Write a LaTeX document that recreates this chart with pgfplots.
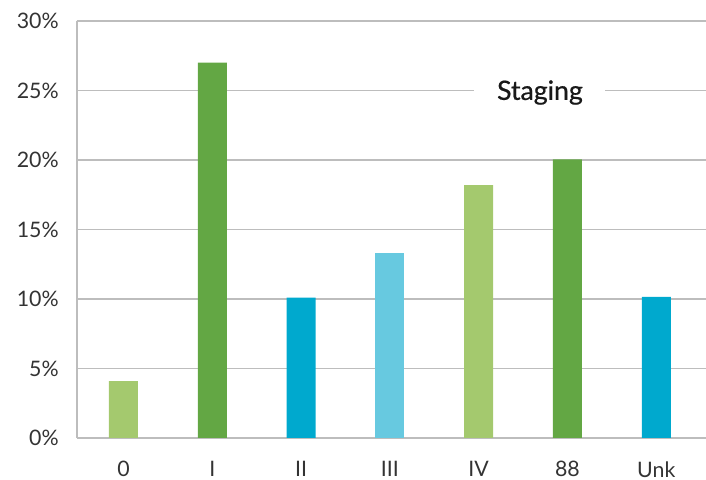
\documentclass[border=0pt]{standalone}
\usepackage{fontspec}
\setmainfont{Lato}
\newfontfamily\titlefont{Lato}[FakeBold=0.6]
\usepackage{pgfplots}
\pgfplotsset{compat=1.18}
\usetikzlibrary{calc}
\definecolor{lgreen}{HTML}{A4C96E}
\definecolor{dgreen}{HTML}{63A744}
\definecolor{cblue}{HTML}{00A9CE}
\definecolor{lblue}{HTML}{67C9E0}
\definecolor{gridgray}{HTML}{BDBDBD}
\definecolor{txt}{HTML}{333333}
\begin{document}
\begin{tikzpicture}
\begin{axis}[
  scale only axis, width=472pt, height=312.75pt,
  xmin=-0.527, xmax=6.56, ymin=0, ymax=30,
  axis x line=bottom, axis y line=left,
  axis line style={-, draw=gridgray, line width=1.6pt},
  ytick={0,5,...,30},
  yticklabel={\pgfmathprintnumber[assume math mode=true]{\tick}\%},
  xtick={0,...,6},
  xticklabels={0,I,II,III,IV,88,Unk},
  major tick length=0pt,
  ymajorgrids,
  grid style={draw=gridgray, line width=1.2pt},
  tick label style={font=\fontsize{16}{19}\selectfont, text=txt},
  yticklabel style={xshift=-10pt},
  xticklabel style={yshift=-14pt},
  ybar, bar width=21.75pt,
  clip=false,
]
\addplot[fill=lgreen, draw=none, bar shift=0pt] coordinates {(0,4.1) (4,18.2)};
\addplot[fill=dgreen, draw=none, bar shift=0pt] coordinates {(1,27) (5,20.05)};
\addplot[fill=cblue, draw=none, bar shift=0pt] coordinates {(2,10.1) (6,10.15)};
\addplot[fill=lblue, draw=none, bar shift=0pt] coordinates {(3,13.3)};
\node[fill=white, inner xsep=17pt, inner ysep=4pt, text=black!90, font=\titlefont\fontsize{20}{24}\selectfont] at (axis cs:4.69,24.85) {Staging};
\end{axis}
\pgfresetboundingbox
\path[use as bounding box] ($(current axis.south west)+(-57.5pt,-31.5pt)$) rectangle ($(current axis.north east)+(0pt,15.75pt)$);
\end{tikzpicture}
\end{document}
